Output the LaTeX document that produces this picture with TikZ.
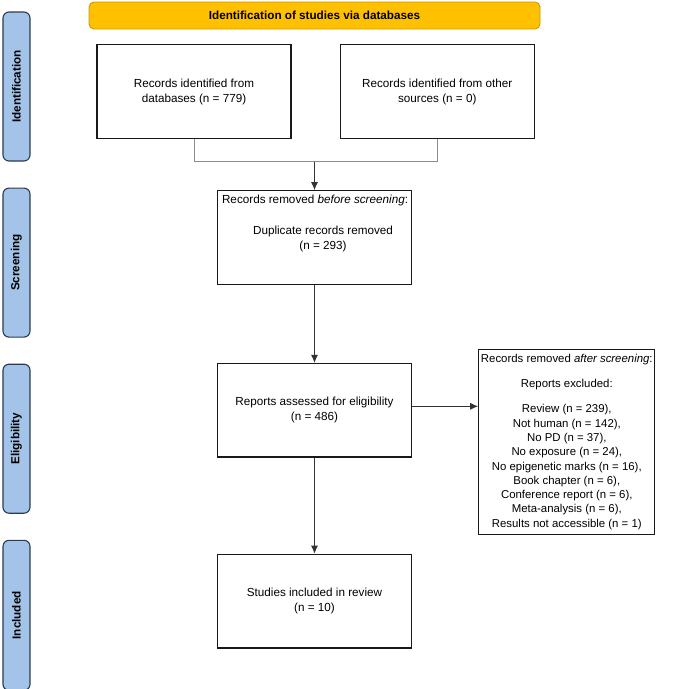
\documentclass[tikz,border=0pt]{standalone}
\usepackage{graphicx}
\usepackage{fontspec}
\setmainfont{Liberation Sans}
\usetikzlibrary{positioning,arrows.meta}

\definecolor{barblue}{HTML}{A4C3E8}
\definecolor{barline}{HTML}{2E3B4E}
\definecolor{bannerfill}{HTML}{FFC000}
\definecolor{bannerline}{HTML}{C99A00}
\newcommand{\fs}{\fontsize{11.7pt}{15pt}\selectfont}

\tikzset{
  box/.style={draw=black!90, line width=1.3pt, minimum width=194pt, minimum height=93.5pt, align=center, font=\fs},
  phase/.style={draw=barline, fill=barblue, rounded corners=6pt, line width=1.1pt, minimum width=27pt, minimum height=149pt, font=\fs\bfseries},
  banner/.style={draw=bannerline, fill=bannerfill, rounded corners=5pt, line width=0.9pt, minimum width=451pt, minimum height=27pt, font=\fs\bfseries},
  merge/.style={draw=black!45, line width=0.9pt},
  arrow/.style={draw=black!80, line width=0.9pt, -{Latex[length=8pt,width=7pt]}}
}

\begin{document}
\begin{tikzpicture}[x=1pt, y=-1pt]
\useasboundingbox (0,0) rectangle (675,689);
% phases on the left
\node[phase] (idbar) at (16.5,86.5) {\rotatebox{90}{Identification}};
\node[phase, below=26pt of idbar] (scbar) {\rotatebox{90}{Screening}};
\node[phase, below=26pt of scbar] (elbar) {\rotatebox{90}{Eligibility}};
\node[phase, below=26pt of elbar, minimum height=150pt] (inbar) {\rotatebox{90}{Included}};
% banner
\node[banner] (title) at (314.5,15.5) {Identification of studies via databases};
% identification
\node[box] (db) at (194,91.5) {Records identified from\\databases (n = 779)};
\node[box, right=48pt of db] (other) {Records identified from other\\sources (n = 0)};
% screening
\node[box] (screen) at (314.5,237.5) {};
\node[anchor=north west, inner sep=0pt, font=\fs] (screenhead) at ([shift={(5pt,-4.5pt)}]screen.north west) {Records removed \textit{before screening}:};
\node[align=center, font=\fs] (screenbody) at ([shift={(8.5pt,-1.5pt)}]screen.center) {Duplicate records removed\\(n = 293)};
% eligibility
\node[box, below=78pt of screen] (elig) {Reports assessed for eligibility\\(n = 486)};
\node[box, anchor=north west, inner xsep=0.5pt, minimum width=176pt, minimum height=185pt, font=\fontsize{11.4pt}{14.3pt}\selectfont] (excl) at ([shift={(66pt,14pt)}]elig.north east)
  {Records removed \textit{after screening}:\\[10.7pt]
   Reports excluded:\\[10.7pt]
   Review (n = 239),\\
   Not human (n = 142),\\
   No PD (n = 37),\\
   No exposure (n = 24),\\
   No epigenetic marks (n = 16),\\
   Book chapter (n = 6),\\
   Conference report (n = 6),\\
   Meta-analysis (n = 6),\\
   Results not accessible (n = 1)};
% included
\node[box, below=96pt of elig] (incl) {Studies included in review\\(n = 10)};
% connectors
\coordinate (join) at ([yshift=-23pt]db.south -| screen.north);
\draw[merge] (db.south) -- (db.south |- join) -- (other.south |- join) -- (other.south);
\draw[arrow] (join) -- (screen.north);
\draw[arrow] (screen.south) -- (elig.north);
\draw[arrow] (elig.south) -- (incl.north);
\draw[arrow] ([yshift=4pt]elig.east) -- ([yshift=4pt]elig.east -| excl.west);
\end{tikzpicture}
\end{document}
